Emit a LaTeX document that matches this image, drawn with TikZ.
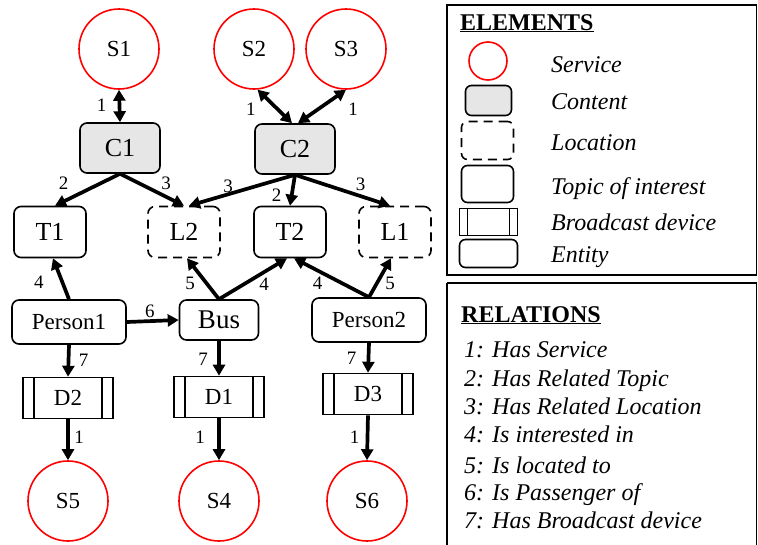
\documentclass[tikz,border=0pt]{standalone}
\usepackage{fontspec}
\setmainfont{Liberation Serif}
\usetikzlibrary{arrows.meta}
\newcommand\myfs[1]{\fontsize{#1}{#1}\selectfont}
\definecolor{cgray}{HTML}{E6E6E6}
\begin{document}
\begin{tikzpicture}[x=1pt,y=-1pt,
  svc/.style={circle, draw=red, line width=1.6pt, minimum size=80pt, inner sep=0pt, font=\myfs{23}},
  tbox/.style={draw, line width=1.6pt, rounded corners=7pt, inner sep=0pt, minimum width=72pt, minimum height=51pt, font=\myfs{26}},
  content/.style={tbox, fill=cgray, minimum width=80pt, minimum height=50pt},
  loc/.style={tbox, dash pattern=on 9pt off 6pt},
  ent/.style={tbox, minimum width=114pt, minimum height=44pt, font=\myfs{23}},
  bus/.style={tbox, minimum width=79pt, minimum height=40pt, font=\myfs{27}},
  dev/.style={draw, line width=1.6pt, inner sep=0pt, minimum width=90pt, minimum height=41pt, font=\myfs{23},
    path picture={\draw[line width=1.6pt] ([xshift=#1]path picture bounding box.north west) -- ([xshift=#1]path picture bounding box.south west);
                  \draw[line width=1.6pt] ([xshift=-#1]path picture bounding box.north east) -- ([xshift=-#1]path picture bounding box.south east);}},
  dev/.default=11pt,
  arr/.style={line width=3.7pt, -{Triangle[length=11pt,width=12pt]}},
  darr/.style={line width=3.7pt, {Triangle[length=11pt,width=12pt]}-{Triangle[length=11pt,width=12pt]}},
  lbl/.style={font=\myfs{19}, inner sep=0pt},
  legtxt/.style={font=\myfs{24}\itshape, inner sep=0pt, anchor=base west},
  head/.style={font=\myfs{24}\bfseries, inner sep=0pt, anchor=base west}
]
\useasboundingbox (0,0) rectangle (758,544);

% services
\node[svc] (S1) at (119,49) {S1};
\node[svc] (S2) at (254,49) {S2};
\node[svc] (S3) at (346,49) {S3};
\node[svc] (S5) at (68,501) {S5};
\node[svc] (S4) at (219,501) {S4};
\node[svc] (S6) at (367,501) {S6};

% contents
\node[content] (C1) at (120,148) {C1};
\node[content] (C2) at (295,149) {C2};

% topics / locations
\node[tbox] (T1) at (50,232) {T1};
\node[loc] (L2) at (184,232) {L2};
\node[tbox] (T2) at (290,232) {T2};
\node[loc] (L1) at (395,232) {L1};

% entities
\node[ent] (P1) at (69,322) {Person1};
\node[bus] (Bus) at (219,320) {Bus};
\node[ent] (P2) at (369,320) {Person2};

% devices
\node[dev] (D2) at (68,398) {D2};
\node[dev] (D1) at (219,397) {D1};
\node[dev] (D3) at (368,394) {D3};

% connectors
\draw[darr] (S1.south) -- (C1.north) node[lbl, pos=0.5, shift={(-18,-1)}] {1};
\draw[darr] (S2.-85) -- ([xshift=-3pt]C2.north) node[lbl, pos=0.5, shift={(-24,3)}] {1};
\draw[darr] (S3.south) -- ([xshift=3pt]C2.north) node[lbl, pos=0.5, shift={(31,3)}] {1};

\draw[arr] (C1.south) -- ([xshift=5pt]T1.north) node[lbl, pos=0.5, shift={(-24,-7)}] {2};
\draw[arr] (C1.south) -- (L2.north) node[lbl, pos=0.5, shift={(14,-6)}] {3};
\draw[arr] (C2.south) -- ([xshift=5pt]L2.north) node[lbl, pos=0.5, shift={(-14,-4)}] {3};
\draw[arr] (C2.south) -- (T2.north) node[lbl, pos=0.5, shift={(-16,5)}] {2};
\draw[arr] (C2.south) -- ([xshift=-5pt]L1.north) node[lbl, pos=0.5, shift={(18,-6)}] {3};

\draw[arr] (P1.north) -- ([xshift=3pt]T1.south) node[lbl, pos=0.5, shift={(-22,3)}] {4};
\draw[arr] (Bus.north) -- ([xshift=3pt]L2.south) node[lbl, pos=0.5, shift={(-13,5)}] {5};
\draw[arr] (Bus.north) -- ([xshift=-3pt]T2.south) node[lbl, pos=0.5, shift={(11,5)}] {4};
\draw[arr] (P2.north) -- ([xshift=4pt]T2.south) node[lbl, pos=0.5, shift={(-14,5)}] {4};
\draw[arr] (P2.north) -- ([xshift=-4pt]L1.south) node[lbl, pos=0.5, shift={(10,6)}] {5};

\draw[arr] (P1.east) -- (Bus.west) node[lbl, pos=0.5, shift={(-3,-10)}] {6};

\draw[arr] (P1.south) -- (D2.north) node[lbl, pos=0.5, shift={(15,0)}] {7};
\draw[arr] (Bus.south) -- (D1.north) node[lbl, pos=0.5, shift={(-16,1)}] {7};
\draw[arr] (P2.south) -- (D3.north) node[lbl, pos=0.5, shift={(-17,1)}] {7};

\draw[arr] (D2.south) -- (S5.north) node[lbl, pos=0.5, shift={(11,-3)}] {1};
\draw[arr] (D1.south) -- (S4.north) node[lbl, pos=0.5, shift={(-19,-2)}] {1};
\draw[arr] (D3.south) -- (S6.north) node[lbl, pos=0.5, shift={(-13,-1)}] {1};

% legend: elements
\draw[line width=1.6pt] (447,5) rectangle (756.5,275);
\node[head] (hE) at (460,30) {\underline{ELEMENTS}};
\node[circle, draw=red, line width=1.6pt, minimum size=38pt, inner sep=0pt] (kS) at (488,61) {};
\node[tbox, fill=cgray, minimum width=46pt, minimum height=30pt, rounded corners=6pt] (kC) at (488.5,100.5) {};
\node[loc, minimum width=52pt, minimum height=38pt, rounded corners=6pt] (kL) at (487.5,140.5) {};
\node[tbox, minimum width=52pt, minimum height=37pt, rounded corners=6pt] (kT) at (487.5,184) {};
\node[dev=8pt, minimum width=58pt, minimum height=27pt] (kD) at (488.5,222) {};
\node[tbox, minimum width=58pt, minimum height=28pt, rounded corners=6pt] (kE) at (488.5,253.5) {};
\node[legtxt] (tS) at (551,72) {Service};
\node[legtxt] (tC) at (551,109) {Content};
\node[legtxt] (tL) at (551,150) {Location};
\node[legtxt] (tT) at (551,194) {Topic of interest};
\node[legtxt] (tD) at (551,230) {Broadcast device};
\node[legtxt] (tE) at (551,262) {Entity};

% legend: relations
\draw[line width=1.6pt] (447,283) -- (756.5,283) -- (756.5,546);
\draw[line width=1.6pt] (447,283) -- (447,546);
\node[head] (hR) at (461,322) {\underline{RELATIONS}};
\node[legtxt] (r1) at (464,357) {1: Has Service};
\node[legtxt] (r2) at (464,386) {2: Has Related Topic};
\node[legtxt] (r3) at (464,414) {3: Has Related Location};
\node[legtxt] (r4) at (464,442) {4: Is interested in};
\node[legtxt] (r5) at (464,473) {5: Is located to};
\node[legtxt] (r6) at (464,500) {6: Is Passenger of};
\node[legtxt] (r7) at (464,528) {7: Has Broadcast device};
\end{tikzpicture}
\end{document}
